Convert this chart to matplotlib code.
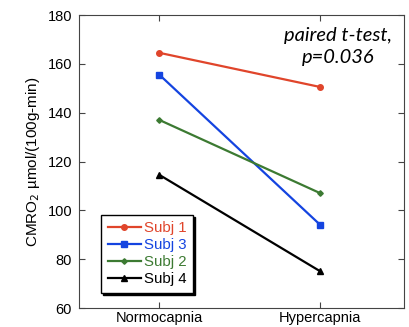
import matplotlib
matplotlib.use('Agg')
import matplotlib.pyplot as plt

conditions = ['Normocapnia', 'Hypercapnia']
subjects = ['Subj 1', 'Subj 3', 'Subj 2', 'Subj 4']
cmro2 = [
    [164.5, 150.5],
    [155.5, 94.0],
    [137.0, 107.0],
    [114.5, 75.0],
]
colors = ['#e0452b', '#1444e0', '#3c7a32', '#000000']
markers = ['o', 's', 'D', '^']
msizes = [4, 4.5, 2.8, 4.5]

plt.rcParams['font.family'] = ['Liberation Sans', 'DejaVu Sans']

fig = plt.figure(figsize=(4.09, 3.27), dpi=100)
ax = fig.add_axes([79/409, 19/327, 325/409, 293/327])

x = list(range(len(conditions)))
for name, vals, c, m, s in zip(subjects, cmro2, colors, markers, msizes):
    ax.plot(x, vals, color=c, marker=m, markersize=s, lw=1.6, label=name)

ax.set_xlim(-0.5, 1.52)
ax.set_ylim(60, 180)
ax.set_yticks(range(60, 181, 20))
ax.set_xticks(x)
ax.set_xticklabels(conditions, fontsize=10.5)
ax.tick_params(axis='both', direction='in', top=True, right=True, labelsize=10.5, length=4,
               color='#444444', pad=5)
ax.tick_params(axis='x', pad=2)
for sp in ax.spines.values():
    sp.set_color('#444444')
ax.set_ylabel('CMRO$_2$ µmol/(100g-min)', fontsize=11, labelpad=4)

leg = ax.legend(loc='lower left', bbox_to_anchor=(0.045, 0.025), fancybox=False,
                shadow={'ox': 1.5, 'oy': -1.5, 'alpha': 1, 'color': 'black'},
                handlelength=2.2, handletextpad=0.2, labelspacing=0.2, fontsize=10.8,
                borderpad=0.45, framealpha=1, edgecolor='black')
for t, c in zip(leg.get_texts(), colors):
    t.set_color(c)

ax.text(1.11, 175, 'paired t-test,\np=0.036', ha='center', va='top', fontsize=14.5,
        style='italic', family='Lato', linespacing=1.35)

fig.savefig('out.png', dpi=100)
